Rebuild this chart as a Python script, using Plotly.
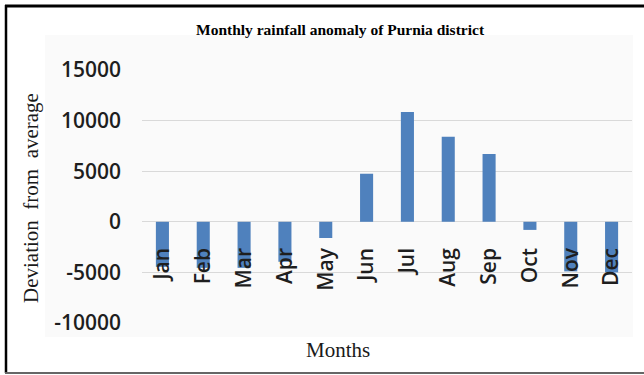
import plotly.graph_objects as go

months = ["Jan", "Feb", "Mar", "Apr", "May", "Jun", "Jul", "Aug", "Sep", "Oct", "Nov", "Dec"]
deviation = [-4450, -4550, -4550, -3950, -1600, 4750, 10850, 8400, 6700, -800, -4900, -5000]
y_ticks = [-10000, -5000, 0, 5000, 10000, 15000]
y_min, y_max = -10000, 15000

W, H = 644, 375
ml, mr, mt, mb = 142, 12, 70, 52
pw, ph = W - ml - mr, H - mt - mb

def px_x(p):
    return (p - ml) / pw

def px_y(p):
    return (H - mb - p) / ph

zero_pos = (0 - y_min) / (y_max - y_min)

fig = go.Figure()
fig.add_trace(go.Bar(
    x=months, y=deviation,
    marker=dict(color="#4f81bd", line=dict(width=0)),
    xaxis="x", yaxis="y",
))

xtickfont = dict(family="Open Sans", size=21, color="#1e1e1e", weight=600)
ytickfont = dict(family="Open Sans", size=21, color="#1e1e1e", weight=600)

fig.update_layout(
    width=W, height=H,
    margin=dict(l=ml, r=mr, t=mt, b=mb),
    paper_bgcolor="white",
    plot_bgcolor="rgba(0,0,0,0)",
    showlegend=False,
    bargap=0.68,
    xaxis=dict(
        type="category", anchor="free", position=zero_pos,
        showgrid=False, showline=False, zeroline=False,
        tickangle=-90, tickfont=xtickfont, ticks="",
        ticklabelstandoff=21, layer="above traces",
    ),
    yaxis=dict(
        range=[y_min, y_max], tickvals=y_ticks,
        ticktext=[str(v) for v in y_ticks],
        showgrid=True, gridcolor="#d9d9d9", gridwidth=1,
        zeroline=True, zerolinecolor="#d9d9d9", zerolinewidth=1,
        showline=False, ticks="", tickfont=ytickfont,
        ticklabelstandoff=20,
    ),
    shapes=[
        dict(type="rect", xref="paper", yref="paper",
             x0=px_x(45), x1=px_x(633), y0=px_y(337), y1=px_y(35),
             fillcolor="#fafafa", line=dict(width=0), layer="below"),
        dict(type="line", xref="paper", yref="paper",
             x0=px_x(5), x1=px_x(650), y0=px_y(6), y1=px_y(6),
             line=dict(color="black", width=3)),
        dict(type="line", xref="paper", yref="paper",
             x0=px_x(6), x1=px_x(6), y0=px_y(5), y1=px_y(373),
             line=dict(color="black", width=2.5)),
        dict(type="line", xref="paper", yref="paper",
             x0=px_x(5), x1=px_x(650), y0=px_y(373), y1=px_y(373),
             line=dict(color="#666666", width=2)),
    ],
    annotations=[
        dict(text="<b>Monthly rainfall anomaly of Purnia district</b>",
             xref="paper", yref="paper", x=px_x(340), y=px_y(29),
             xanchor="center", yanchor="middle", showarrow=False,
             font=dict(family="Liberation Serif", size=15.5, color="black")),
        dict(text="Months",
             xref="paper", yref="paper", x=px_x(338), y=px_y(350),
             xanchor="center", yanchor="middle", showarrow=False,
             font=dict(family="Liberation Serif", size=21, color="#1a1a1a")),
        dict(text="Deviation\u00a0 from\u00a0 average",
             xref="paper", yref="paper", x=px_x(31), y=px_y(198),
             xanchor="center", yanchor="middle", textangle=-90, showarrow=False,
             font=dict(family="Liberation Serif", size=21, color="#1a1a1a")),
    ],
)

fig.write_html("out.html")
